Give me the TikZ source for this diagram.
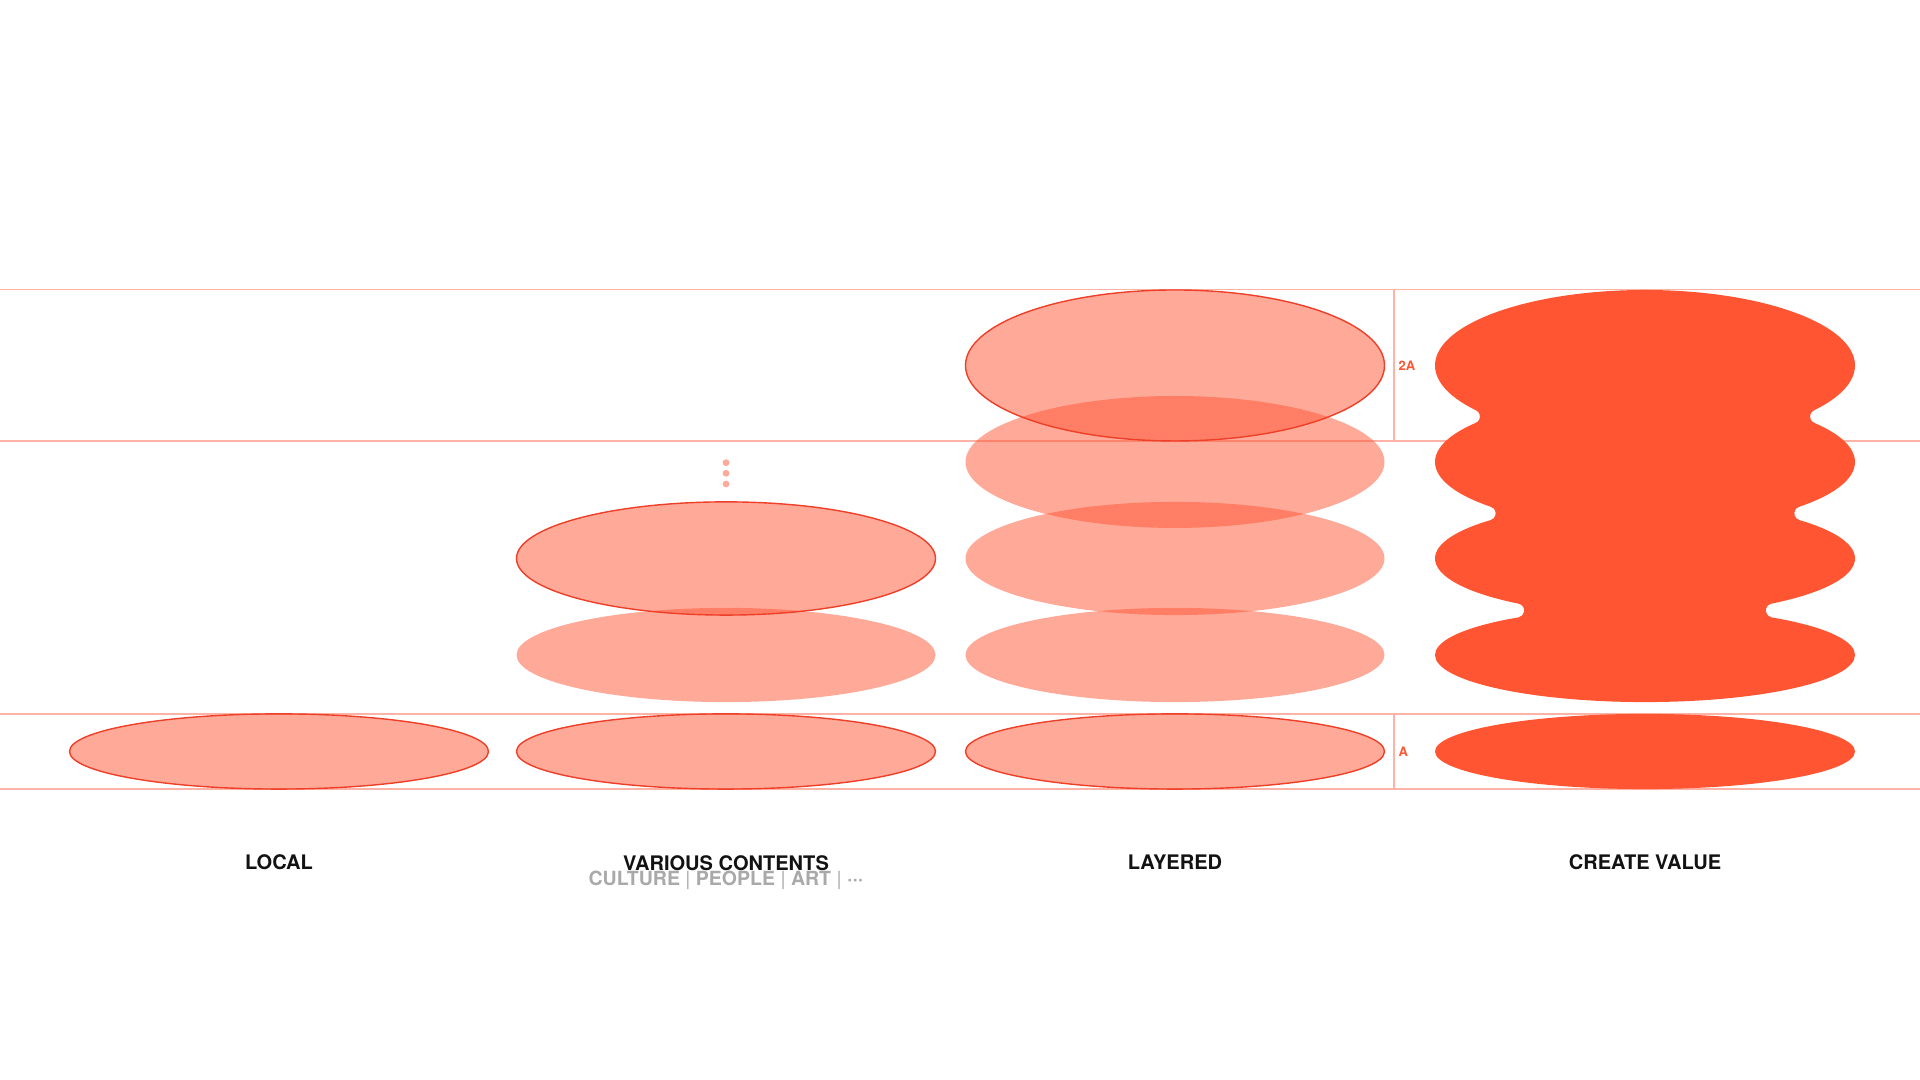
\documentclass[tikz,border=0pt]{standalone}
\usepackage{fontspec}
\setmainfont{TeX Gyre Heros}
\usetikzlibrary{positioning}
\definecolor{StackRed}{HTML}{FF5533}
\definecolor{StackRim}{HTML}{EE3F28}
\definecolor{GuideRed}{HTML}{FFB3A6}
\definecolor{SubGray}{HTML}{A9A9A9}

\tikzset{
  guide/.style={GuideRed, line width=0.3pt},
  disc/.style={fill=StackRed, fill opacity=0.5},
  rim/.style={draw=StackRim, line width=0.4pt},
  value/.style={fill=StackRed},
  caption/.style={font=\fontsize{5.7}{6.8}\selectfont\bfseries, text=black!93, inner sep=0pt, anchor=base},
  tag/.style={font=\fontsize{3.7}{4.4}\selectfont\bfseries, text=StackRed, inner sep=0pt, anchor=base west},
}

\begin{document}
\begin{tikzpicture}[x=0.01cm, y=0.01cm]
  \fill[white] (0,0) rectangle (1920,1080);
  \useasboundingbox (0,0) rectangle (1920,1080);
  % Guides: band 2A from 639 to 790, band A from 291 to 366
  \foreach \y in {790,639,366,291}
    \draw[guide] (0,\y) -- (1920,\y);
  \draw[guide] (1394,790) -- (1394,639);
  \draw[guide] (1394,366) -- (1394,291);
  \node[tag] (twoA) at (1398,709) {2A};
  \node[tag] (oneA) at (1398,323.5) {A};
  % Rows k=0..4 (centre y / half height):
  % 714.5/75.5, 618/66.0, 521.5/56.6, 425/47.1, 328.5/37.6
  % LOCAL
  \fill[disc] (279,328.5) ellipse [x radius=209.5, y radius=37.6];
  % VARIOUS CONTENTS
  \fill[disc] (726,328.5) ellipse [x radius=209.5, y radius=37.6];
  \fill[disc] (726,425) ellipse [x radius=209.5, y radius=47.1];
  \fill[disc] (726,521.5) ellipse [x radius=209.5, y radius=56.6];
  \foreach \y in {617.3,606.7,596}
    \fill[disc] (726,\y) circle (3.4);
  % LAYERED
  \foreach \y/\ry in {328.5/37.6, 425/47.1, 521.5/56.6, 618/66.0, 714.5/75.5}
    \fill[disc] (1175,\y) ellipse [x radius=209.5, y radius=\ry];
  % Outlines on top
  \draw[rim] (279,328.5) ellipse [x radius=209.5, y radius=37.6];
  \draw[rim] (726,328.5) ellipse [x radius=209.5, y radius=37.6];
  \draw[rim] (726,521.5) ellipse [x radius=209.5, y radius=56.6];
  \draw[rim] (1175,328.5) ellipse [x radius=209.5, y radius=37.6];
  \draw[rim] (1175,714.5) ellipse [x radius=209.5, y radius=75.5];
  % CREATE VALUE: the four lobes merged, pinches rounded off (r = 7)
  \begin{scope}[shift={(1645,0)}]
    \foreach \y/\ry in {714.5/75.5, 618/66.0, 521.5/56.6, 425/47.1}
      \fill[value] (0,\y) ellipse [x radius=210, y radius=\ry];
    % start inside both lobes, out along each rim, round the tip
    \foreach \s in {1,-1}
      \foreach \px/\py/\ax/\ay/\sa/\ea in {123.6/663.0/169.0/669.7/116.2/246.7,
                                         99.5/566.1/154.1/573.2/108.8/253.5,
                                         46.9/468.8/126.4/476.3/101.6/260.4}
        \fill[value, xscale=\s] (\px,\py) -- (\ax,\ay)
          arc[start angle=\sa, end angle=\ea, radius=7] -- cycle;
    \fill[value] (0,328.5) ellipse [x radius=210, y radius=37.6];
  \end{scope}
  % Captions
  \node[caption] (local) at (279,210) {LOCAL};
  \node[caption] (various) at (726,209.5) {VARIOUS CONTENTS};
  \node[caption, text=SubGray, font=\fontsize{5.55}{6.6}\selectfont\bfseries] (kinds) at (726,194)
    {CULTURE {\mdseries|} PEOPLE {\mdseries|} ART {\mdseries|} ···};
  \node[caption] (layered) at (1175,210) {LAYERED};
  \node[caption] (create) at (1645,210) {CREATE VALUE};
\end{tikzpicture}
\end{document}
